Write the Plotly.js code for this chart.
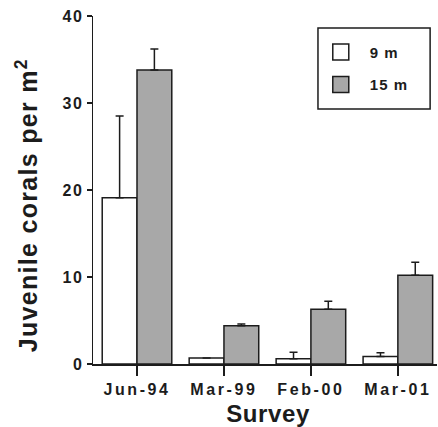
<!DOCTYPE html>
<html>
<head>
<meta charset="utf-8">
<script src="https://cdn.plot.ly/plotly-3.0.1.min.js"></script>
<style>
  html, body { margin: 0; padding: 0; background: #fff; }
  #chart { width: 438px; height: 427px; }
  .xtick text { letter-spacing: 2.6px; }
  .ytick text { letter-spacing: 1.5px; }
  .legendtext { letter-spacing: 1px; }
  g.annotation[data-index="0"] text { letter-spacing: 1.3px; }
  g.annotation[data-index="1"] text { letter-spacing: 0.6px; }
</style>
</head>
<body>
<div id="chart"></div>
<script>
// ---- data ----
const surveys = ['Jun-94', 'Mar-99', 'Feb-00', 'Mar-01'];
const depth9Name = '9 m';
const depth15Name = '15 m';
const depth9 = [19.1, 0.7, 0.6, 0.85];
const depth9Err = [9.4, 0, 0.75, 0.45];
const depth15 = [33.8, 4.4, 6.3, 10.2];
const depth15Err = [2.4, 0.2, 0.9, 1.5];
const zeros = [0, 0, 0, 0];
const yTicks = [0, 10, 20, 30, 40];

const FONT = 'Liberation Sans, Arial, Helvetica, sans-serif';
const INK = '#1c1c1c';
const GRAY = '#a8a8a8';

function barTrace(name, y, err, color) {
  return {
    type: 'bar', name: name, x: surveys, y: y, showlegend: false,
    marker: { color: color, line: { color: INK, width: 1.5 } },
    error_y: { type: 'data', symmetric: false, array: err, arrayminus: zeros,
               color: INK, thickness: 1.5, width: 4 },
    hoverinfo: 'x+y+name'
  };
}
function legendTrace(name, color, group) {
  return {
    type: 'scatter', mode: 'markers', name: name, x: [null], y: [null],
    legendgroup: group, showlegend: true,
    marker: { symbol: 'square', size: 16, color: color, line: { color: INK, width: 1.5 } }
  };
}

const data = [
  barTrace(depth9Name, depth9, depth9Err, '#ffffff'),
  barTrace(depth15Name, depth15, depth15Err, GRAY),
  legendTrace(depth9Name, '#ffffff', 'a'),
  legendTrace(depth15Name, GRAY, 'b')
];

const layout = {
  width: 438, height: 427,
  margin: { l: 93, r: 1, t: 16, b: 63 },
  paper_bgcolor: '#fff', plot_bgcolor: '#fff',
  barmode: 'group', bargap: 0.2, bargroupgap: 0,
  font: { family: FONT, color: INK },
  xaxis: {
    type: 'category', range: [-0.506, 3.45],
    showline: true, linecolor: INK, linewidth: 1.5,
    ticks: 'outside', ticklen: 10, tickwidth: 1.5, tickcolor: INK,
    showgrid: false, zeroline: false,
    tickfont: { family: FONT, size: 16, weight: 'bold', color: INK }
  },
  yaxis: {
    range: [0, 40], tickvals: yTicks, ticktext: yTicks.map(String),
    showline: true, linecolor: INK, linewidth: 1.5,
    ticks: 'outside', ticklen: 5, tickwidth: 1.5, tickcolor: INK,
    showgrid: false, zeroline: false,
    tickfont: { family: FONT, size: 16, weight: 'bold', color: INK }
  },
  legend: {
    x: 0.636, y: 0.9435, xanchor: 'left', yanchor: 'top',
    bgcolor: 'rgba(0,0,0,0)', borderwidth: 0,
    traceorder: 'grouped', tracegroupgap: 10, itemwidth: 48,
    font: { family: FONT, size: 15, weight: 'bold', color: INK }
  },
  shapes: [{
    type: 'rect', xref: 'paper', yref: 'paper',
    x0: 0.654, x1: 0.980, y0: 0.733, y1: 0.9655,
    line: { color: INK, width: 1.5 }, fillcolor: 'rgba(0,0,0,0)'
  }],
  annotations: [
    {
      text: 'Juvenile corals per m<sup>2</sup>', textangle: -90,
      xref: 'paper', yref: 'paper', x: -0.192, y: 0.457,
      xanchor: 'center', yanchor: 'middle', showarrow: false,
      font: { family: FONT, size: 25, weight: 'bold', color: INK }
    },
    {
      text: 'Survey',
      xref: 'paper', yref: 'paper', x: 0.509, y: -0.0977,
      xanchor: 'center', yanchor: 'top', showarrow: false,
      font: { family: FONT, size: 24, weight: 'bold', color: INK }
    }
  ]
};

Plotly.newPlot('chart', data, layout, { displayModeBar: false, staticPlot: true });
</script>
</body>
</html>
